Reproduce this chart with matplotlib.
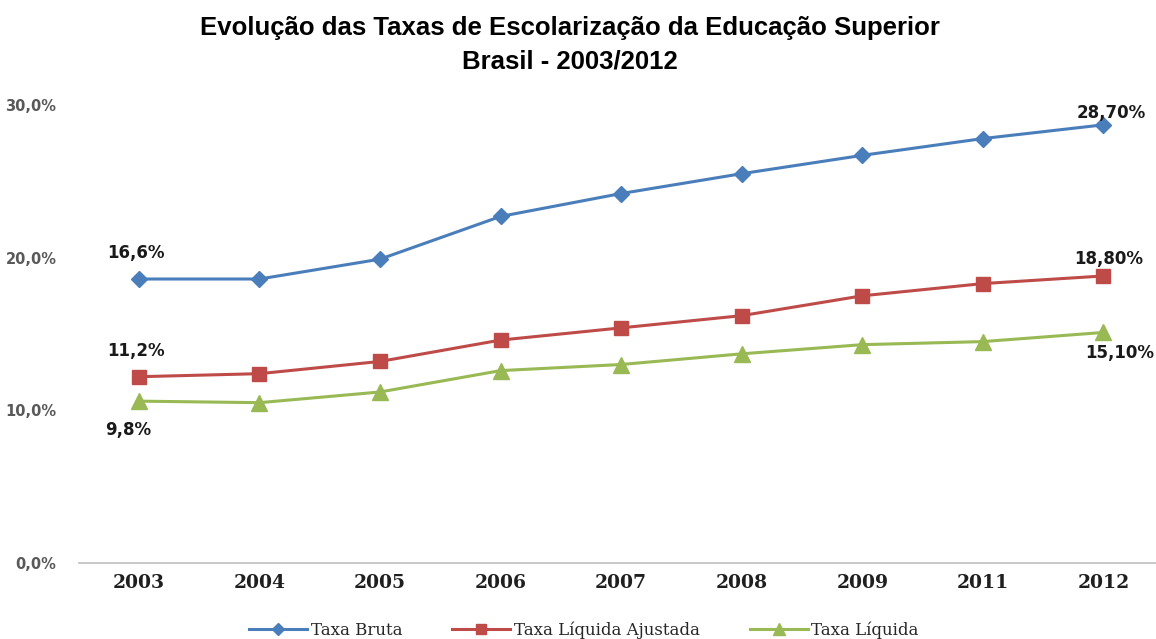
import matplotlib.pyplot as plt
from matplotlib.ticker import FuncFormatter

anos = ["2003", "2004", "2005", "2006", "2007", "2008", "2009", "2011", "2012"]
taxa_bruta = [18.6, 18.6, 19.9, 22.7, 24.2, 25.5, 26.7, 27.8, 28.7]
taxa_liq_ajustada = [12.2, 12.4, 13.2, 14.6, 15.4, 16.2, 17.5, 18.3, 18.8]
taxa_liquida = [10.6, 10.5, 11.2, 12.6, 13.0, 13.7, 14.3, 14.5, 15.1]

# rótulos como aparecem no gráfico original
rotulos_bruta = {0: "16,6%", 8: "28,70%"}
rotulos_ajustada = {0: "11,2%", 8: "18,80%"}
rotulos_liquida = {0: "9,8%", 8: "15,10%"}

fig = plt.figure(figsize=(11.56, 6.39), dpi=100)
ax = fig.add_axes([0.068, 0.119, 0.9386, 0.7167])

x = range(len(anos))
ax.plot(x, taxa_bruta, color="#4a7ebb", lw=2.2, marker="D", ms=8, label="Taxa Bruta")
ax.plot(x, taxa_liq_ajustada, color="#be4b48", lw=2.2, marker="s", ms=10, label="Taxa Líquida Ajustada")
ax.plot(x, taxa_liquida, color="#98b954", lw=2.2, marker="^", ms=11, label="Taxa Líquida")

fonte_rot = dict(fontsize=12, fontweight="bold", color="#1a1a1a", family="DejaVu Sans", ha="center")
ax.annotate(rotulos_bruta[0], (0, taxa_bruta[0]), xytext=(-2, 12), textcoords="offset points", va="bottom", **fonte_rot)
ax.annotate(rotulos_bruta[8], (8, taxa_bruta[8]), xytext=(6, 2), textcoords="offset points", va="bottom", **fonte_rot)
ax.annotate(rotulos_ajustada[0], (0, taxa_liq_ajustada[0]), xytext=(-2, 12), textcoords="offset points", va="bottom", **fonte_rot)
ax.annotate(rotulos_ajustada[8], (8, taxa_liq_ajustada[8]), xytext=(4, 6), textcoords="offset points", va="bottom", **fonte_rot)
ax.annotate(rotulos_liquida[0], (0, taxa_liquida[0]), xytext=(-8, -14), textcoords="offset points", va="top", **fonte_rot)
ax.annotate(rotulos_liquida[8], (8, taxa_liquida[8]), xytext=(12, -8), textcoords="offset points", va="top", **fonte_rot)

ax.set_xlim(-0.5, 8.5)
ax.set_ylim(0, 30)
ax.set_yticks([0, 10, 20, 30])
ax.yaxis.set_major_formatter(FuncFormatter(lambda v, p: f"{v:.1f}%".replace(".", ",")))
ax.set_xticks(list(x))
ax.set_xticklabels(anos, fontsize=13.5, family="DejaVu Serif", color="#1f1f1f")
for lab in ax.get_xticklabels():
    lab.set_fontweight("semibold")
for lab in ax.get_yticklabels():
    lab.set_fontsize(10.5)
    lab.set_fontweight("bold")
    lab.set_color("#595959")
    lab.set_family("DejaVu Sans")
ax.tick_params(length=0, axis="both")
ax.tick_params(axis="x", pad=8)
ax.tick_params(axis="y", pad=16)
for s in ["top", "right", "left"]:
    ax.spines[s].set_visible(False)
ax.spines["bottom"].set_color("#bfbfbf")
ax.spines["bottom"].set_linewidth(1.2)

fig.text(0.493, 0.956, "Evolução das Taxas de Escolarização da Educação Superior",
         ha="center", va="center", fontsize=18.5, fontweight="bold", family="Liberation Sans")
fig.text(0.493, 0.904, "Brasil - 2003/2012",
         ha="center", va="center", fontsize=18.5, fontweight="bold", family="Liberation Sans")

leg = fig.legend(loc="center", bbox_to_anchor=(0.505, 0.014), ncol=3, frameon=False,
                 prop={"family": "DejaVu Serif", "size": 12}, handlelength=3.5,
                 handletextpad=0.2, columnspacing=3, markerscale=0.75)
for t in leg.get_texts():
    t.set_color("#262626")

fig.savefig("out.png", dpi=100)
